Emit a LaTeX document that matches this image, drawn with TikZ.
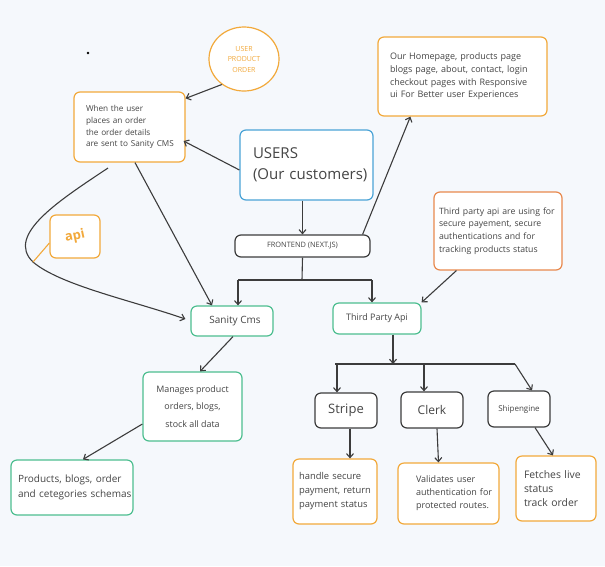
\documentclass[tikz,border=0pt]{standalone}
\usepackage{fontspec}
\setmainfont{Open Sans}
\usetikzlibrary{arrows.meta,shapes.geometric}
\definecolor{bg}{HTML}{F5F8FC}
\definecolor{ora}{HTML}{F2A93B}
\definecolor{orared}{HTML}{E8894E}
\definecolor{grn}{HTML}{4DBE90}
\definecolor{blu}{HTML}{4AA3D6}
\definecolor{drk}{HTML}{3C3C3C}
\definecolor{txt}{HTML}{454545}
\tikzset{
  box/.style={draw, rounded corners=6pt, fill=white, line width=1.2pt, inner sep=0pt, text=txt},
  obox/.style={box, draw=ora},
  rbox/.style={box, draw=orared},
  gbox/.style={box, draw=grn},
  bbox/.style={box, draw=blu},
  dbox/.style={box, draw=drk},
  arr/.style={draw=drk, line width=1.1pt, -{Straight Barb[length=4pt,width=7pt]}},
  ln/.style={draw=drk, line width=1.1pt},
}
\begin{document}
\begin{tikzpicture}[x=1pt,y=-1pt]
\fill[bg] (0,0) rectangle (605,566);
\useasboundingbox (0,0) rectangle (605,566);

\fill[black] (88,53) circle (1.4pt);

% nodes
\node[ellipse, draw=ora, line width=1.2pt, fill=white, minimum width=70pt, minimum height=64pt, inner sep=0pt, text=ora, align=center, font=\fontsize{7}{10.5}\selectfont] (circ) at (244,59) {USER\\PRODUCT\\ORDER};

\node[obox, minimum width=111pt, minimum height=70pt, text width=87pt, align=left, font=\fontsize{8.2}{11.8}\selectfont] (order) at (129.5,127) {\mbox{When the user}\\\mbox{places an order}\\\mbox{the order details}\\\mbox{are sent to Sanity CMS}};

\node[bbox, minimum width=133pt, minimum height=70pt, text width=107pt, align=left, font=\fontsize{15}{21}\selectfont] (users) at (306.5,165) {\mbox{USERS}\\\mbox{(Our customers)}};

\node[obox, minimum width=169pt, minimum height=79pt, text width=145pt, align=left, font=\fontsize{9}{12.6}\selectfont] (home) at (462.5,76.5) {\mbox{Our Homepage, products page}\\\mbox{blogs page, about, contact, login}\\\mbox{checkout pages with Responsive}\\\mbox{ui For Better user Experiences}};

\node[dbox, minimum width=135pt, minimum height=22pt, font=\fontsize{7.4}{8}\selectfont] (fe) at (302.5,246) {FRONTEND (NEXT.JS)};

\node[rbox, minimum width=128pt, minimum height=78pt, text width=118pt, align=left, font=\fontsize{8.7}{12.6}\selectfont] (tdesc) at (498,231) {\mbox{Third party api are using for}\\\mbox{secure payement, secure}\\\mbox{authentications and for}\\\mbox{tracking products status}};

\node[obox, minimum width=50pt, minimum height=43pt, text=ora, font=\fontsize{13}{15}\selectfont\bfseries] (api) at (75,236.5) {\rotatebox{12}{api}};

\node[gbox, minimum width=82pt, minimum height=30pt, font=\fontsize{10}{12}\selectfont] (sanity) at (232,321) {\hspace{6pt}Sanity Cms};
\node[gbox, minimum width=88pt, minimum height=31pt, font=\fontsize{9}{11}\selectfont] (third) at (377,318.5) {Third Party Api};

\node[gbox, minimum width=99pt, minimum height=69pt, align=center, font=\fontsize{8.9}{17.5}\selectfont] (manage) at (192.5,406.5) {Manages product\\orders, blogs,\\stock all data};

\node[gbox, minimum width=122pt, minimum height=55pt, text width=108pt, align=left, font=\fontsize{10}{15.5}\selectfont] (prod) at (72,487.5) {\mbox{Products, blogs, order}\\\mbox{and cetegories schemas}};

\node[dbox, minimum width=62pt, minimum height=35pt, font=\fontsize{13}{15}\selectfont] (stripe) at (346,410.5) {Stripe};
\node[dbox, minimum width=62pt, minimum height=36pt, font=\fontsize{12}{14}\selectfont] (clerk) at (432,410) {Clerk};
\node[dbox, minimum width=62pt, minimum height=36pt, font=\fontsize{8}{10}\selectfont] (ship) at (519,409) {Shipengine};

\node[obox, minimum width=84pt, minimum height=65pt, text width=72pt, align=left, font=\fontsize{9.4}{14}\selectfont] (sdesc) at (335,491.5) {\mbox{handle secure}\\\mbox{payment, return}\\\mbox{payment status}};
\node[obox, minimum width=101pt, minimum height=61pt, text width=65pt, align=left, font=\fontsize{9}{13}\selectfont] (cdesc) at (448.5,493.5) {\mbox{Validates user}\\\mbox{authentication for}\\\mbox{protected routes.}};
\node[obox, minimum width=80pt, minimum height=65pt, text width=64pt, align=left, font=\fontsize{10.4}{14}\selectfont] (shdesc) at (556,488.5) {\mbox{Fetches live}\\\mbox{status}\\\mbox{track order}};

% coordinates
\coordinate (split1) at (302,280);
\coordinate (sL) at (238,280);
\coordinate (sR) at (372,280);
\coordinate (split2) at (393,364);
\coordinate (tL) at (335,364);
\coordinate (tR) at (515,364);
\coordinate (tM) at (424,364);
\coordinate (cstart) at (108,168);

% connectors
\draw[arr] (circ.229) -- ([yshift=-7pt]order.north east);
\draw[arr] ([yshift=-5pt]users.west) -- ([yshift=-14pt,xshift=-2pt]order.east);
\draw[arr] (users.south -| fe.north) -- (fe.north);
\draw[arr] ([xshift=-8pt]fe.north east) -- ([xshift=33pt]home.south west);
\draw[ln] (fe.south) -- (split1);
\draw[ln] (sL) -- (sR);
\draw[arr] (sL) -- (sL |- sanity.north);
\draw[arr] (sR) -- (sR |- third.north);
\draw[arr] ([xshift=5.5pt]order.south) -- ([xshift=-20pt]sanity.north);
\draw[arr] (cstart) .. controls (60,200) and (5,235) .. (33,262) coordinate (cmid) .. controls (60,285) and (130,300) .. ([xshift=-5pt,yshift=2pt]sanity.west);
\draw[draw=ora, line width=1.1pt] ([yshift=-6.5pt]api.west) -- (cmid);
\draw[arr] ([xshift=23pt]tdesc.south west) -- (third.north east);
\draw[arr] ([xshift=1pt]sanity.south) -- ([xshift=7.5pt]manage.north);
\draw[arr] ([yshift=-17.5pt]manage.west) -- ([xshift=11pt]prod.north);
\draw[arr] (third.south -| split2) -- (split2);
\draw[ln] (tL) -- (tR);
\draw[arr] ([xshift=2pt]tL) -- ([xshift=2pt]tL |- stripe.north);
\draw[arr] (tM) -- (tM |- clerk.north);
\draw[arr] (tR) -- ([xshift=13pt]ship.north);
\draw[arr] ([xshift=4pt]stripe.south) -- ([xshift=4pt]stripe.south |- sdesc.north);
\draw[arr] ([xshift=5pt]clerk.south) -- ([xshift=-10pt]cdesc.north);
\draw[arr] ([xshift=16pt]ship.south) -- ([xshift=-3pt]shdesc.north);
\end{tikzpicture}
\end{document}
